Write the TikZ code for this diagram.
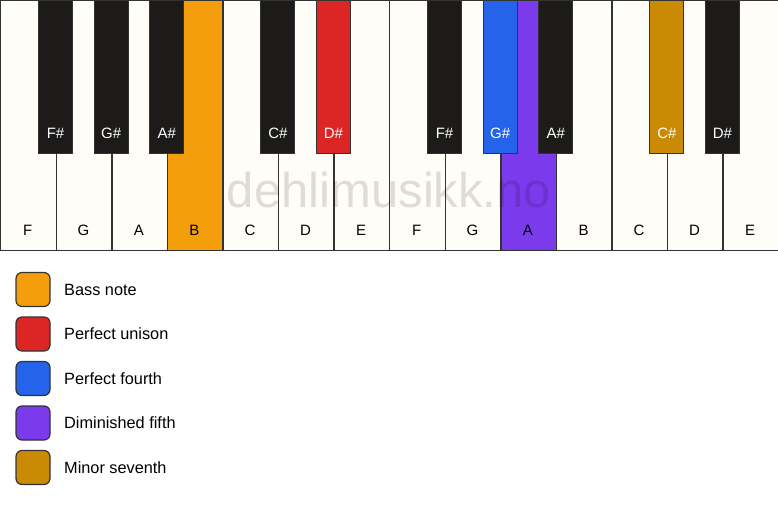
\documentclass[tikz,border=0pt]{standalone}
\usepackage{fontspec}
\setmainfont{Liberation Sans}
\definecolor{keywhite}{HTML}{FFFDF8}
\definecolor{keyblack}{HTML}{1C1B1A}
\definecolor{keyline}{HTML}{333333}
\definecolor{cbass}{HTML}{F59E0B}
\definecolor{cunison}{HTML}{DC2626}
\definecolor{cfourth}{HTML}{2563EB}
\definecolor{cfifth}{HTML}{7C3AED}
\definecolor{cseventh}{HTML}{CA8A04}
\begin{document}
\begin{tikzpicture}[x=1pt,y=-1pt,
  whitekey/.style={draw=keyline,line width=1.4pt,fill=keywhite,rectangle,inner sep=0pt,
    minimum width=55.571pt,minimum height=250pt,anchor=north west},
  blackkey/.style={draw=keyline,line width=1.2pt,fill=keyblack,rectangle,inner sep=0pt,
    minimum width=34pt,minimum height=153pt,anchor=north},
  wlabel/.style={font=\fontsize{15}{18}\selectfont,text=black,inner sep=0pt},
  blabel/.style={font=\fontsize{15}{18}\selectfont,text=white,inner sep=0pt},
  swatch/.style={draw=keyline,line width=1.2pt,rounded corners=6pt,minimum size=34pt,inner sep=0pt},
  legtext/.style={font=\fontsize{16.3}{19}\selectfont,anchor=west,inner sep=0pt}]
\useasboundingbox[fill=white] (0,0) rectangle (778,506);
% white keys
\foreach \n [count=\i from 0] in {F,G,A,B,C,D,E,F,G,A,B,C,D,E}{
  \node[whitekey] (w\i) at (\i*55.571,0) {};
  \node[wlabel] (wl\i) at (\i*55.571+27.786,230) {\n};
}
\node[whitekey,fill=cbass] (w3) at (3*55.571,0) {};
\node[wlabel] (wl3) at (3*55.571+27.786,230) {B};
\node[whitekey,fill=cfifth] (w9) at (9*55.571,0) {};
\node[wlabel] (wl9) at (9*55.571+27.786,230) {A};
% watermark
\node[font=\fontsize{49}{54}\selectfont,text=black,opacity=0.13,inner sep=0pt] (wm) at (389,190) {dehlimusikk.no};
% black keys
\foreach \b/\n/\c in {1/F\#/keyblack,2/G\#/keyblack,3/A\#/keyblack,5/C\#/keyblack,6/D\#/cunison,
                     8/F\#/keyblack,9/G\#/cfourth,10/A\#/keyblack,12/C\#/cseventh,13/D\#/keyblack}{
  \node[blackkey,fill=\c] (b\b) at (\b*55.571,0) {};
  \node[blabel] (bl\b) at (\b*55.571,133) {\n};
}
% legend
\foreach \c/\t [count=\k from 0] in {cbass/Bass note,cunison/Perfect unison,cfourth/Perfect fourth,
                                     cfifth/Diminished fifth,cseventh/Minor seventh}{
  \node[swatch,fill=\c] (s\k) at (33,289.5+\k*44.5) {};
  \node[legtext] (t\k) at (64,289.5+\k*44.5) {\t};
}
\end{tikzpicture}
\end{document}
